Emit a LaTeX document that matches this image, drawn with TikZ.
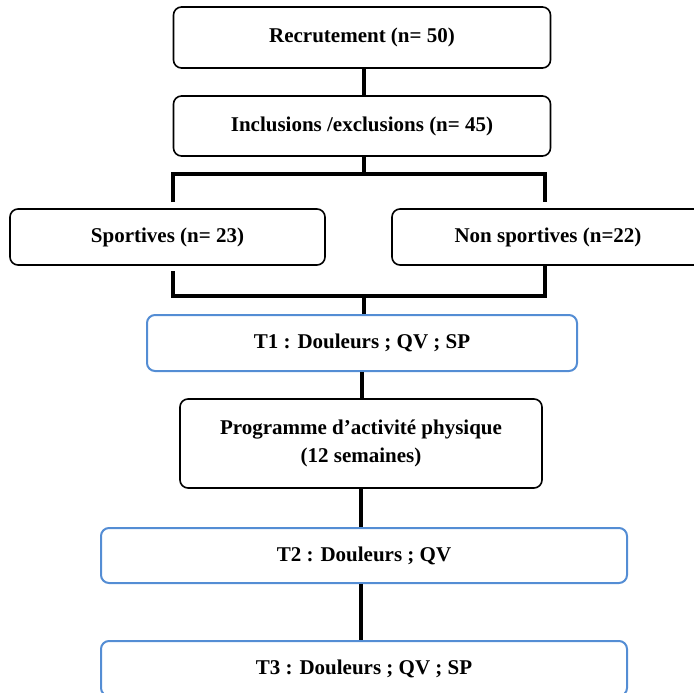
\documentclass[tikz,border=0pt]{standalone}
\usepackage{fontspec}
\setmainfont{Liberation Serif}
\definecolor{boxblue}{RGB}{84,141,212}
\begin{document}
\begin{tikzpicture}[x=1pt,y=-1pt,
  blackbox/.style={draw=black, line width=1.6pt, rounded corners=8pt, inner sep=0pt,
    align=center, font=\fontsize{21}{28}\selectfont\bfseries},
  bluebox/.style={blackbox, draw=boxblue, line width=2pt},
  conn/.style={line width=4pt}]
\useasboundingbox (0,0) rectangle (694,693);
\node[blackbox, minimum width=377pt, minimum height=61pt] (rec) at (362,37.5) {Recrutement (n= 50)};
\node[blackbox, minimum width=377pt, minimum height=60pt] (inc) at (362,126) {Inclusions /exclusions (n= 45)};
\node[blackbox, minimum width=315pt, minimum height=56pt] (spo) at (167.5,237) {Sportives (n= 23)};
\node[blackbox, minimum width=312pt, minimum height=56pt] (non) at (548,237) {Non sportives (n=22)};
\node[bluebox, minimum width=430pt, minimum height=56pt] (t1) at (362,343) {T1 : Douleurs ; QV ; SP};
\node[blackbox, minimum width=362pt, minimum height=89pt] (prog) at (361,443.5) {Programme d’activité physique\\(12 semaines)};
\node[bluebox, minimum width=526pt, minimum height=55pt] (t2) at (364,555.5) {T2 : Douleurs ; QV};
\node[bluebox, minimum width=526pt, minimum height=55pt] (t3) at (364,668.5) {T3 : Douleurs ; QV ; SP};
% top split
\coordinate (tl) at (173,174);
\coordinate (tr) at (545,174);
\coordinate (tm) at (364,174);
\coordinate (dl) at (173,202);
\coordinate (dr) at (545,202);
% bottom merge
\coordinate (ul) at (173,271);
\coordinate (ur) at (545,265);
\coordinate (bl) at (173,296);
\coordinate (br) at (545,296);
\coordinate (bm) at (364,296);
\draw[conn] (rec.south -| tm) -- (inc.north -| tm);
\draw[conn] (inc.south -| tm) -- (tm);
\draw[conn] (dl) -- (tl) -- (tr) -- (dr);
\draw[conn] (ul) -- (bl) -- (br) -- (ur);
\draw[conn] (bm) -- (t1.north -| bm);
\draw[conn] (t1.south) -- (prog.north -| t1.south);
\draw[conn] (prog.south) -- (t2.north -| prog.south);
\draw[conn] (t2.south -| prog.south) -- (t3.north -| prog.south);
\end{tikzpicture}
\end{document}
